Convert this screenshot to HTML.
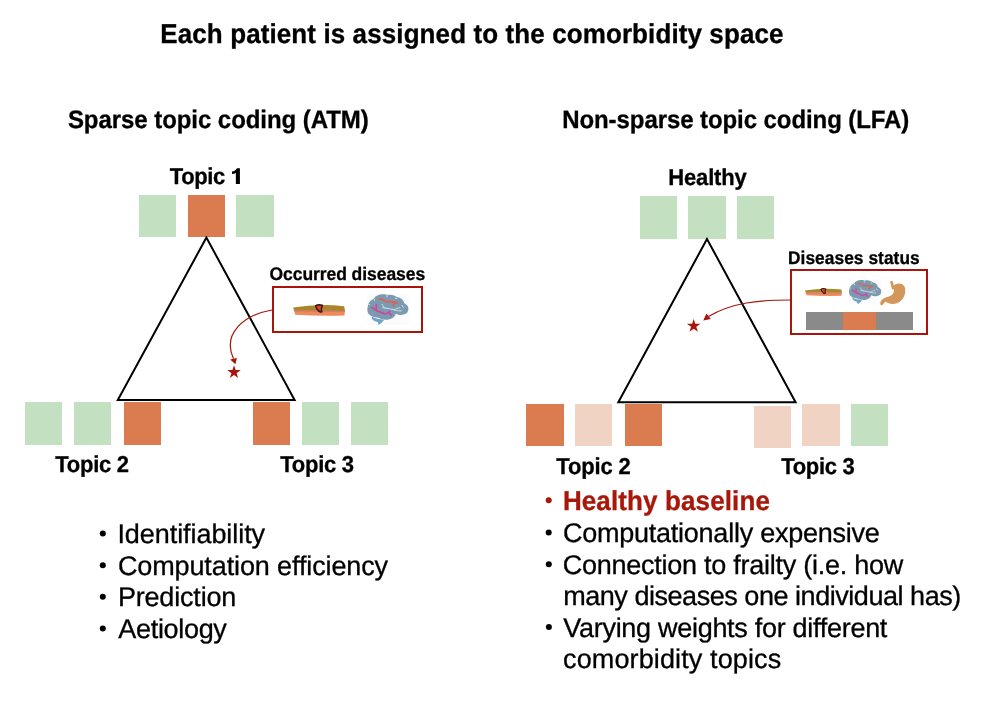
<!DOCTYPE html>
<html><head><meta charset="utf-8">
<style>
html,body{margin:0;padding:0;background:#fff;}
svg{display:block;will-change:transform;}
text{text-rendering:geometricPrecision;font-family:"Liberation Sans",sans-serif;fill:#000;stroke:#000;stroke-width:0.3px;}
.b{font-weight:bold;stroke-width:0.3px;}
</style></head>
<body>
<svg width="991" height="702" viewBox="0 0 991 702">
<rect width="991" height="702" fill="#fff"/>
<!-- LEFT diagram -->
<rect x="139" y="195" width="37" height="42" fill="#C3E0C0"/>
<rect x="188" y="195" width="37" height="42" fill="#DA7C4F"/>
<rect x="236" y="195" width="38" height="42" fill="#C3E0C0"/>
<rect x="25" y="402" width="37" height="43" fill="#C3E0C0"/>
<rect x="74" y="402" width="37" height="43" fill="#C3E0C0"/>
<rect x="124" y="402" width="37" height="43" fill="#DA7C4F"/>
<rect x="253" y="402" width="37" height="43" fill="#DA7C4F"/>
<rect x="302" y="402" width="37" height="43" fill="#C3E0C0"/>
<rect x="351" y="402" width="37" height="43" fill="#C3E0C0"/>
<polygon points="206.4,237.6 117.8,400 294.6,400" fill="none" stroke="#000" stroke-width="2" stroke-linejoin="miter"/>
<rect x="273" y="287" width="149" height="45" fill="none" stroke="#A8150B" stroke-width="2"/>
<path d="M272,310 C243.5,315 222,334 233.5,358.8" fill="none" stroke="#A8150B" stroke-width="1.2"/>
<polygon points="230.2,359.6 236.9,358 235.4,364.2" fill="#A8150B"/>
<polygon fill="#A8150B" transform="translate(234,372.3) scale(7.1)" points="0,-1 0.2245,-0.309 0.951,-0.309 0.363,0.118 0.588,0.809 0,0.382 -0.588,0.809 -0.363,0.118 -0.951,-0.309 -0.2245,-0.309"/>
<path d="M239.9,184 L235.85,184 L235.85,173.1 C234.6,173.8 233.3,174.1 232,174.1 L232,171.6 C234.2,171.3 235.9,170.3 236.9,168.2 L239.9,168.2 Z" fill="#000"/>
<!-- RIGHT diagram -->
<rect x="640" y="196" width="37" height="43" fill="#C3E0C0"/>
<rect x="688" y="196" width="38" height="43" fill="#C3E0C0"/>
<rect x="737" y="196" width="37" height="43" fill="#C3E0C0"/>
<rect x="526" y="404" width="38" height="42" fill="#DA7C4F"/>
<rect x="575" y="404" width="37" height="42" fill="#F1D3C4"/>
<rect x="625" y="404" width="37" height="42" fill="#DA7C4F"/>
<rect x="754" y="406" width="37" height="42" fill="#F1D3C4"/>
<rect x="802" y="404" width="38" height="42" fill="#F1D3C4"/>
<rect x="851" y="404" width="37" height="42" fill="#C3E0C0"/>
<polygon points="707,239 618.3,402.3 795.6,402.3" fill="none" stroke="#000" stroke-width="2" stroke-linejoin="miter"/>
<rect x="791" y="270" width="136" height="64" fill="none" stroke="#A8150B" stroke-width="2"/>
<rect x="806" y="312" width="37" height="18" fill="#8A8A8A"/>
<rect x="843" y="312" width="33" height="18" fill="#DA7C4F"/>
<rect x="876" y="312" width="37" height="18" fill="#8A8A8A"/>
<path d="M790,300 C759,300 732,302.5 708.5,316.5" fill="none" stroke="#A8150B" stroke-width="1.2"/>
<polygon points="706.4,313.6 710.8,318.9 703.3,320.4" fill="#A8150B"/>
<polygon fill="#A8150B" transform="translate(693.7,326) scale(7.1)" points="0,-1 0.2245,-0.309 0.951,-0.309 0.363,0.118 0.588,0.809 0,0.382 -0.588,0.809 -0.363,0.118 -0.951,-0.309 -0.2245,-0.309"/>
<!-- bullets -->
<circle cx="102.8" cy="533.5" r="3"/>
<circle cx="102.8" cy="565.2" r="3"/>
<circle cx="102.8" cy="596.8" r="3"/>
<circle cx="102.8" cy="628.5" r="3"/>
<circle cx="548.7" cy="500.3" r="3" fill="#A8180A"/>
<circle cx="548.7" cy="532.4" r="3"/>
<circle cx="548.8" cy="564.3" r="3"/>
<circle cx="548.9" cy="627.1" r="3"/>

<defs>
<g id="brain">
 <rect x="95" y="65" width="770" height="575" fill="#FBFBFC"/>
 <path fill="#7B99AF" d="M120,440 C95,400 92,340 110,300 C105,250 150,190 215,160 C250,110 320,75 390,80 C430,80 460,90 480,92 C540,80 610,100 650,135 C720,140 770,190 780,245 C835,265 870,320 855,380 C840,440 780,465 700,460 C660,458 635,445 620,440 C615,490 560,540 470,548 C400,555 330,530 290,515 C220,510 150,480 120,440 Z"/>
 <path fill="#6FA2CB" d="M180,492 C230,528 320,545 408,550 C385,585 350,620 310,645 C295,622 300,602 282,588 C240,578 198,560 182,525 Z"/>
 <g fill="none" stroke="#DCE5EC" stroke-linecap="round" stroke-width="17">
  <path d="M370,265 C390,300 410,325 440,335 C500,350 560,350 610,370 C650,385 690,390 725,385"/>
  <path d="M430,333 C410,325 395,325 380,330"/>
  <path d="M600,368 C630,345 660,330 700,330"/>
  <path d="M460,95 L462,130"/>
  <path d="M225,165 L232,195"/>
  <path d="M615,150 L640,160"/>
  <path d="M740,285 C745,300 750,315 765,320"/>
  <path d="M120,262 L140,270"/>
 </g>
 <g fill="none" stroke-linecap="round" stroke-width="30">
  <path stroke="#E2604F" d="M320,170 C360,160 390,175 420,205 C450,230 480,210 520,210 C560,212 590,235 650,232"/>
  <path stroke="#E2604F" d="M600,232 C590,255 580,270 575,285"/>
  <path stroke="#D2459C" d="M180,322 C220,335 245,375 270,385 C320,400 360,410 400,435 C440,450 480,420 505,425 C520,440 530,455 540,470"/>
  <path stroke="#D2459C" d="M262,380 C260,340 270,300 265,270"/>
  <path stroke="#D2459C" d="M490,425 C500,410 505,400 510,390"/>
 </g>
</g>
<g id="artery">
 <path fill="#EE8A5C" d="M128,215 L848,222 L842,290 Q480,300 145,278 Z"/>
 <path fill="#A9872B" d="M115,178 Q470,118 838,158 L850,228 Q480,222 128,222 Z"/>
 <path fill="none" stroke="#E0677A" stroke-width="10" d="M130,228 Q480,232 848,232"/>
 <path fill="#E8382A" stroke="#2A1A14" stroke-width="20" stroke-linejoin="round" d="M432,152 Q470,128 528,145 L518,185 Q508,212 522,238 Q500,250 478,228 Q440,195 432,152 Z"/>
</g>
</defs>
<use href="#artery" transform="translate(285,295) scale(0.07062)"/>
<use href="#brain" transform="translate(362,290) scale(0.05411)"/>
<use href="#artery" transform="translate(799.2,281.9) scale(0.0503,0.048)"/>
<use href="#brain" transform="translate(844.75,276.6) scale(0.04258)"/>
<g transform="translate(800,272) scale(0.111)">
 <path fill="none" stroke="#D3965B" stroke-width="24" stroke-linecap="round" d="M825,92 C830,110 833,125 838,145"/>
 <path fill="#D3965B" d="M836,128 C858,100 915,88 942,130 C962,185 935,262 865,284 C825,294 792,282 770,268 C758,276 752,290 742,298 C728,304 718,292 724,272 C732,245 760,228 795,222 C825,216 842,200 846,172 C847,155 842,140 836,128 Z"/>
</g>

<text id="title" class="b" x="160.30" y="42.6" font-size="26" textLength="623.19" lengthAdjust="spacing" transform="matrix(1 0 0 1.05 0 -2.130)">Each patient is assigned to the comorbidity space</text>
<text id="sparse" class="b" x="67.90" y="127.8" font-size="24" textLength="300.83" lengthAdjust="spacing" transform="matrix(1 0 0 1.05 0 -6.390)">Sparse topic coding (ATM)</text>
<text id="nonsparse" class="b" x="562.20" y="127.8" font-size="24" textLength="347.14" lengthAdjust="spacing" transform="matrix(1 0 0 1.05 0 -6.390)">Non-sparse topic coding (LFA)</text>
<text id="topic1" class="b" x="169.80" y="184.3" font-size="22" textLength="55.33" lengthAdjust="spacing" transform="matrix(1 0 0 1.045 0 -8.293)">Topic</text>
<text id="healthy" class="b" x="668.30" y="184.7" font-size="22" textLength="78.48" lengthAdjust="spacing" transform="matrix(1 0 0 1.045 0 -8.311)">Healthy</text>
<text id="t2l" class="b" x="55.30" y="472.1" font-size="22" textLength="73.79" lengthAdjust="spacing" transform="matrix(1 0 0 1.045 0 -21.244)">Topic 2</text>
<text id="t3l" class="b" x="280.30" y="472.1" font-size="22" textLength="73.79" lengthAdjust="spacing" transform="matrix(1 0 0 1.045 0 -21.244)">Topic 3</text>
<text id="t2r" class="b" x="556.30" y="474.0" font-size="22" textLength="74.39" lengthAdjust="spacing" transform="matrix(1 0 0 1.045 0 -21.330)">Topic 2</text>
<text id="t3r" class="b" x="781.30" y="474.0" font-size="22" textLength="73.39" lengthAdjust="spacing" transform="matrix(1 0 0 1.045 0 -21.330)">Topic 3</text>
<text id="occ" class="b" x="269.50" y="279.5" font-size="17.5" textLength="155.62" lengthAdjust="spacing" transform="matrix(1 0 0 1.04 0 -11.180)">Occurred diseases</text>
<text id="dstat" class="b" x="788.00" y="263.8" font-size="17.3" textLength="131.66" lengthAdjust="spacing" transform="matrix(1 0 0 1.06 0 -15.828)">Diseases status</text>
<text id="l1" x="117.40" y="542.7" font-size="27" textLength="147.68" lengthAdjust="spacing">Identifiability</text>
<text id="l2" x="117.90" y="574.5" font-size="27" textLength="270.16" lengthAdjust="spacing">Computation efficiency</text>
<text id="l3" x="117.90" y="606.0" font-size="27" textLength="118.42" lengthAdjust="spacing">Prediction</text>
<text id="l4" x="118.30" y="637.7" font-size="27" textLength="108.57" lengthAdjust="spacing">Aetiology</text>
<text id="r1" class="b" x="562.90" y="509.7" font-size="26" style="fill:#A8180A;stroke:#A8180A" textLength="207.00" lengthAdjust="spacing" transform="matrix(1 0 0 1.05 0 -25.485)">Healthy baseline</text>
<text id="r2" x="562.90" y="542.0" font-size="27" textLength="316.93" lengthAdjust="spacing">Computationally expensive</text>
<text id="r3" x="562.70" y="573.5" font-size="27" textLength="340.48" lengthAdjust="spacing">Connection to frailty (i.e. how</text>
<text id="r4" x="563.20" y="604.7" font-size="27" textLength="398.05" lengthAdjust="spacing">many diseases one individual has)</text>
<text id="r5" x="563.30" y="636.7" font-size="27" textLength="324.08" lengthAdjust="spacing">Varying weights for different</text>
<text id="r6" x="563.10" y="668.3" font-size="27" textLength="218.08" lengthAdjust="spacing">comorbidity topics</text>
</svg>
</body></html>
